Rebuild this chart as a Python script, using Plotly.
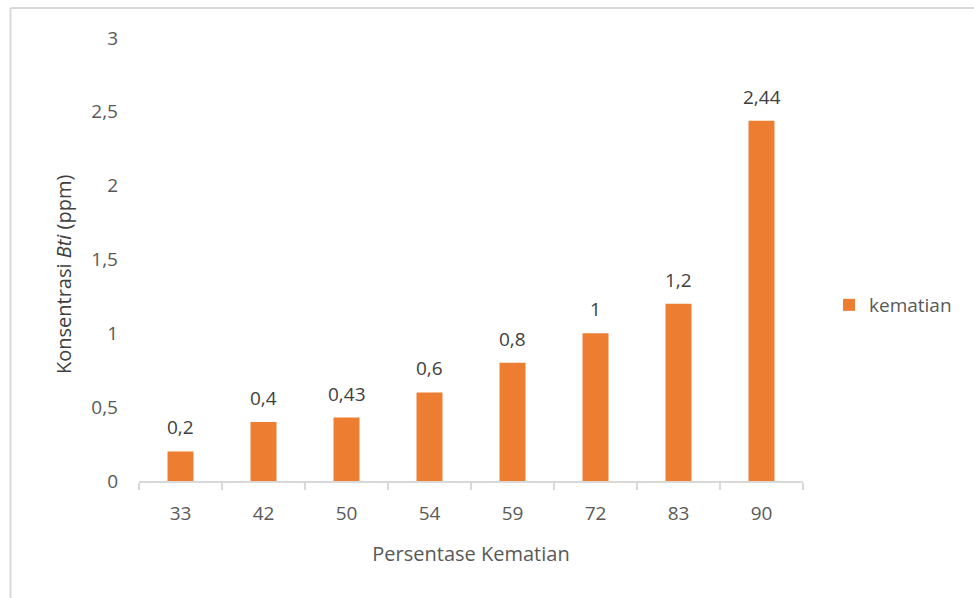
import plotly.graph_objects as go

categories = ["33", "42", "50", "54", "59", "72", "83", "90"]
values = [0.2, 0.4, 0.43, 0.6, 0.8, 1, 1.2, 2.44]
series_name = "kematian"
y_ticks = [0, 0.5, 1, 1.5, 2, 2.5, 3]

labels = [f"{v:g}".replace(".", ",") for v in values]
tick_text = [f"{v:g}".replace(".", ",") for v in y_ticks]

W, H = 974, 598
L, R, T, B = 139, 171, 38, 117
pw, ph = W - L - R, H - T - B

font_family = "'Open Sans', Lato, sans-serif"
gray = "#595959"

fig = go.Figure()
fig.add_trace(go.Bar(
    x=categories, y=values, name=series_name,
    marker=dict(color="#ED7D31", line=dict(width=0)),
    showlegend=True,
))

for i, (v, t) in enumerate(zip(values, labels)):
    fig.add_annotation(x=i, y=v, text=t, showarrow=False, yanchor="bottom",
                       yshift=9, font=dict(size=19, color="#404040", family=font_family))

def px_x(x):
    return (x - L) / pw

def px_y(y):
    return (H - B - y) / ph

# y-axis title (placed as annotation to match the reference's vertical offset)
fig.add_annotation(xref="paper", yref="paper", x=px_x(63), y=px_y(274),
                   xanchor="center", yanchor="middle", textangle=-90,
                   text="Konsentrasi <i>Bti</i> (ppm)", showarrow=False,
                   font=dict(size=20, color="#404040", family=font_family))

fig.update_layout(
    width=W, height=H,
    margin=dict(l=L, r=R, t=T, b=B),
    plot_bgcolor="white", paper_bgcolor="white",
    separators=",.",
    bargap=0.687,
    font=dict(family=font_family, color=gray, size=18),
    showlegend=True,
    legend=dict(x=px_x(829), y=px_y(305), xanchor="left", yanchor="middle",
                font=dict(size=19, color=gray), itemwidth=30),
    xaxis=dict(
        type="category", categoryorder="array", categoryarray=categories,
        range=[-0.5, len(categories) - 0.5],
        title=dict(text="Persentase Kematian", font=dict(size=20, color=gray), standoff=22),
        showline=True, linecolor="#D9D9D9", linewidth=2,
        ticks="outside", tickson="boundaries", ticklen=7, tickcolor="#D9D9D9", tickwidth=2,
        tickfont=dict(size=19, color=gray), ticklabelstandoff=14, tickangle=0,
        showgrid=False,
    ),
    yaxis=dict(
        range=[0, 3], tickvals=y_ticks, ticktext=tick_text,
        showline=False, showgrid=False, zeroline=False,
        tickfont=dict(size=19, color=gray), ticklabelstandoff=20,
    ),
    shapes=[
        dict(type="line", xref="paper", yref="paper",
             x0=px_x(10.5), x1=px_x(10.5), y0=px_y(8), y1=px_y(H + 5),
             line=dict(color="#D9D9D9", width=2)),
        dict(type="line", xref="paper", yref="paper",
             x0=px_x(10.5), x1=px_x(W + 5), y0=px_y(8), y1=px_y(8),
             line=dict(color="#D9D9D9", width=2)),
    ],
)

fig.write_html("out.html")
